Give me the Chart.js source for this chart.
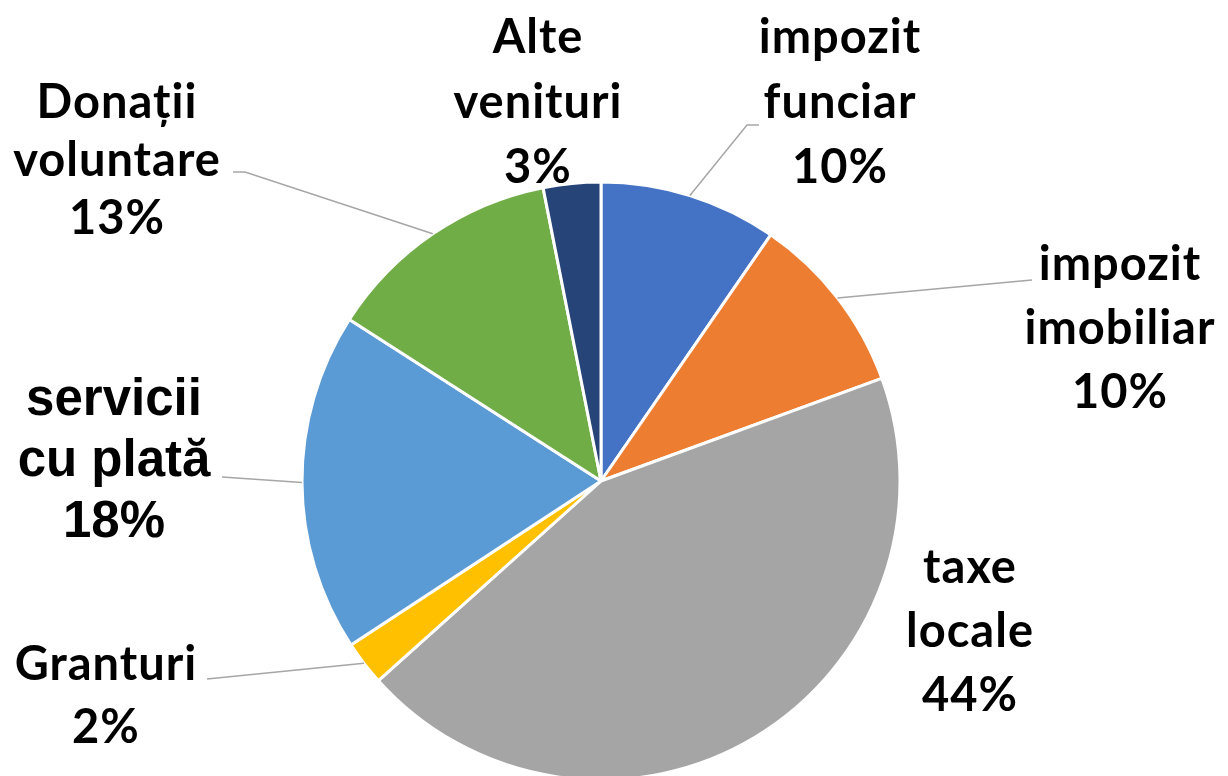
<!DOCTYPE html>
<html>
<head>
<meta charset="utf-8">
<script src="https://cdn.jsdelivr.net/npm/chart.js@4"></script>
<style>
  html, body { margin: 0; padding: 0; background: #fff; }
  #wrap { width: 1228px; height: 776px; }
</style>
</head>
<body>
<div id="wrap"><canvas id="myChart" width="1228" height="776"></canvas></div>
<script>
// data (shares)
var categories = ['impozit funciar', 'impozit imobiliar', 'taxe locale', 'Granturi', 'servicii cu plată', 'Donații voluntare', 'Alte venituri'];
var values = [9.6, 9.8, 43.9, 2.4, 18.3, 12.8, 3.1];
var labelLines = [
  ['impozit', 'funciar'],
  ['impozit', 'imobiliar'],
  ['taxe', 'locale'],
  ['Granturi'],
  ['servicii', 'cu plată'],
  ['Donații', 'voluntare'],
  ['Alte', 'venituri']
];
var colors = ['#4472C4', '#ED7D31', '#A5A5A5', '#FFC000', '#5B9BD5', '#70AD47', '#264478'];

// where each label sits (text center x, first baseline, line gap) + leader bend points
var labelLayout = [
  { x: 840, y: 53, gap: 65, font: 'Lato', leader: [[747, 125], [759, 125]] },
  { x: 1120, y: 280, gap: 64, font: 'Lato', leader: [[1032, 280]] },
  { x: 970, y: 583, gap: 64, font: 'Lato', leader: null },
  { x: 106, y: 680, gap: 63, font: 'Lato', leader: [[207, 679]] },
  { x: 114, y: 415, gap: 61, font: '"Liberation Sans"', leader: [[222, 477]] },
  { x: 117, y: 118, gap: 58, font: 'Lato', leader: [[245, 172], [233, 172]] },
  { x: 538, y: 53, gap: 65, font: 'Lato', leader: null }
];

var total = values.reduce(function(a, b){ return a + b }, 0);

var outsideLabels = {
  id: 'outsideLabels',
  afterDatasetsDraw: function(chart) {
    var ctx = chart.ctx;
    var arcs = chart.getDatasetMeta(0).data;
    ctx.save();
    arcs.forEach(function(arc, i) {
      var lay = labelLayout[i];
      // leader line from the arc edge at mid angle
      if (lay.leader) {
        var mid = (arc.startAngle + arc.endAngle) / 2;
        var sx = arc.x + Math.cos(mid) * arc.outerRadius;
        var sy = arc.y + Math.sin(mid) * arc.outerRadius;
        ctx.beginPath();
        ctx.moveTo(sx, sy);
        lay.leader.forEach(function(p){ ctx.lineTo(p[0], p[1]) });
        ctx.strokeStyle = '#A6A6A6';
        ctx.lineWidth = 1.5;
        ctx.stroke();
      }
      var lines = labelLines[i].concat([Math.round(values[i] / total * 100) + '%']);
      if (lay.font === 'Lato') {
        ctx.font = 'bold 47px Lato';
        ctx.letterSpacing = '1px';
      } else {
        ctx.font = 'bold 51px "Liberation Sans"';
        ctx.letterSpacing = '0px';
      }
      ctx.fillStyle = '#000';
      ctx.textAlign = 'center';
      ctx.textBaseline = 'alphabetic';
      lines.forEach(function(t, k) {
        ctx.fillText(t, lay.x, lay.y + k * lay.gap);
      });
    });
    ctx.restore();
  }
};

const ctx = document.getElementById('myChart');

new Chart(ctx, {
  type: 'pie',
  data: {
    labels: categories,
    datasets: [{
      data: values,
      backgroundColor: colors,
      borderColor: '#ffffff',
      borderWidth: 3,
      radius: 299,
      clip: false
    }]
  },
  options: {
    responsive: false,
    animation: false,
    layout: {
      padding: { left: 306, right: 332, top: 186, bottom: 0 }
    },
    plugins: {
      legend: { display: false },
      tooltip: { enabled: false }
    }
  },
  plugins: [outsideLabels]
});
</script>
</body>
</html>
